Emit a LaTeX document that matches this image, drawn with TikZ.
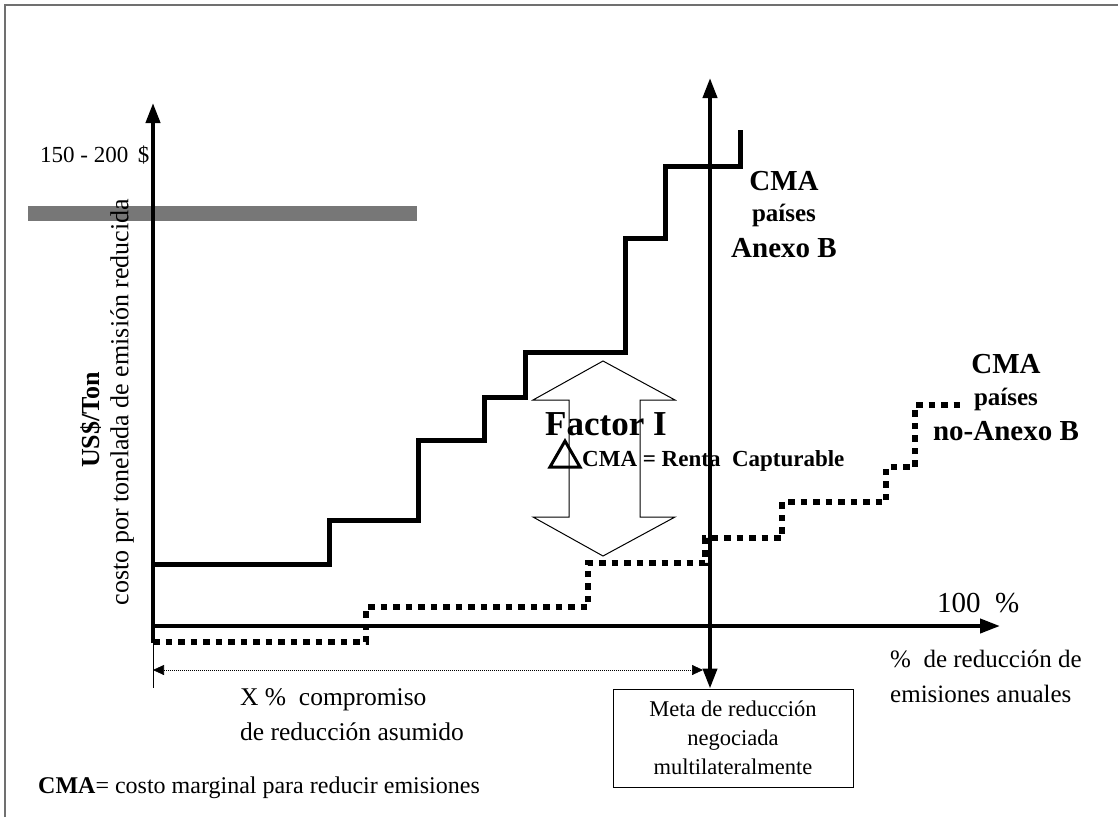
\documentclass[tikz,border=0pt]{standalone}
\usepackage{fontspec}
\setmainfont{Liberation Serif}
\usetikzlibrary{arrows.meta}
\newcommand\fsz[2]{\fontsize{#1}{#2}\selectfont}
\definecolor{barcol}{HTML}{777777}
\definecolor{framecol}{HTML}{707070}
\tikzset{
  axisline/.style={line width=4pt},
  bigtip/.tip={Triangle[length=20pt,width=14pt]},
  stairA/.style={line width=5pt, line join=miter},
  stairB/.style={line width=5.5pt, dash pattern=on 6.5pt off 6pt},
  dimline/.style={line width=0.7pt, dash pattern=on 1pt off 1pt, {Triangle[length=11pt,width=10pt]}-{Triangle[length=11pt,width=10pt]}},
  blockarrow/.style={draw=black, line width=1pt, line join=miter},
  lbl/.style={inner sep=0pt, anchor=base west},
  clbl/.style={inner sep=0pt, anchor=base},
}
\begin{document}
\begin{tikzpicture}[x=1pt,y=-1pt]
\useasboundingbox (0,0) rectangle (1118,817);
\fill[white] (0,0) rectangle (1118,817);
% frame (top and left)
\draw[framecol, line width=2pt] (5,817) -- (5,5) -- (1118,5);
% grey price band
\fill[barcol] (28,206) rectangle (417,221);
% coordinates
\coordinate (yo) at (153,643);
\coordinate (ytip) at (153,103);
\coordinate (xo) at (153,626);
\coordinate (xtip) at (1000,626);
\coordinate (atop) at (710,78);
\coordinate (dimL) at (153,670);
\coordinate (dimR) at (703,670);
\coordinate (tickT) at (153,645);
\coordinate (tickB) at (153,688);
% box
\node[draw, line width=1pt, minimum width=240pt, minimum height=98pt, inner sep=0pt,
      align=center, font=\fsz{22.5}{29}] (meta) at (733,738)
      {Meta de reducción\\negociada\\multilateralmente};
% axes
\draw[axisline, -bigtip] (yo) -- (ytip);
\draw[axisline, -bigtip] (xo) -- (xtip);
\draw[axisline, bigtip-bigtip] (atop) -- (atop |- meta.north);
% dimension line
\draw[line width=0.8pt] (tickT) -- (tickB);
\draw[dimline] (dimL) -- (dimR);
% staircase Anexo B
\draw[stairA] (153,564) -- (329,564) -- (329,520) -- (418,520) -- (418,440)
  -- (484,440) -- (484,397) -- (525,397) -- (525,352) -- (625,352) -- (625,238)
  -- (665,238) -- (665,166) -- (740,166) -- (740,130);
% staircase no-Anexo B
\draw[stairB] (153,642) -- (366,642) -- (366,607) -- (588,607) -- (588,563)
  -- (705,563) -- (705,538) -- (782,538) -- (782,502) -- (886,502) -- (886,467)
  -- (915,467) -- (915,405) -- (962,405);
% double block arrow
\draw[blockarrow] (603,361) -- (675,400) -- (640,400) -- (640,517) -- (675,517)
  -- (603,556) -- (533,517) -- (569,517) -- (569,400) -- (533,400) -- cycle;
% delta
\draw[line width=3pt, line join=miter] (550,467) -- (565,441) -- (580,467) -- cycle;
% texts
\node[lbl, font=\fsz{23}{28}] (price) at (40,162) {150 - 200 \,\$};
\node[rotate=90, inner sep=0pt, font=\bfseries\fsz{26}{30}] (unit) at (91,420) {US\$/Ton};
\node[rotate=90, inner sep=0pt, font=\fsz{26}{30}] (ylab) at (122,402) {costo por tonelada de emisión reducida};
\node[clbl, font=\bfseries\fsz{29}{32}] (cmaA) at (784,190) {CMA};
\node[clbl, font=\bfseries\fsz{25}{30}] (paisA) at (784,221) {países};
\node[clbl, font=\bfseries\fsz{29}{32}] (anexA) at (784,257) {Anexo B};
\node[clbl, font=\bfseries\fsz{29}{32}] (cmaB) at (1006,373) {CMA};
\node[clbl, font=\bfseries\fsz{25}{30}] (paisB) at (1006,405) {países};
\node[clbl, font=\bfseries\fsz{29}{32}] (anexB) at (1006,440) {no-Anexo B};
\node[lbl, font=\bfseries\fsz{35}{40}] (factor) at (545,435) {Factor I};
\node[lbl, font=\bfseries\fsz{23}{26}] (renta) at (582,466) {CMA = Renta \ Capturable};
\node[lbl, font=\fsz{29}{32}] (cien) at (937,612) {100 \ \%};
\node[lbl, font=\fsz{25}{29}] (xaxA) at (890,667) {\% \ de reducción de};
\node[lbl, font=\fsz{25}{29}] (xaxB) at (890,702) {emisiones anuales};
\node[lbl, font=\fsz{25.5}{30}] (compA) at (240,705) {X \% \ compromiso};
\node[lbl, font=\fsz{25.5}{30}] (compB) at (240,740) {de reducción asumido};
\node[lbl, font=\fsz{24}{29}] (legend) at (38,793) {\textbf{CMA}= costo marginal para reducir emisiones};
\end{tikzpicture}
\end{document}
